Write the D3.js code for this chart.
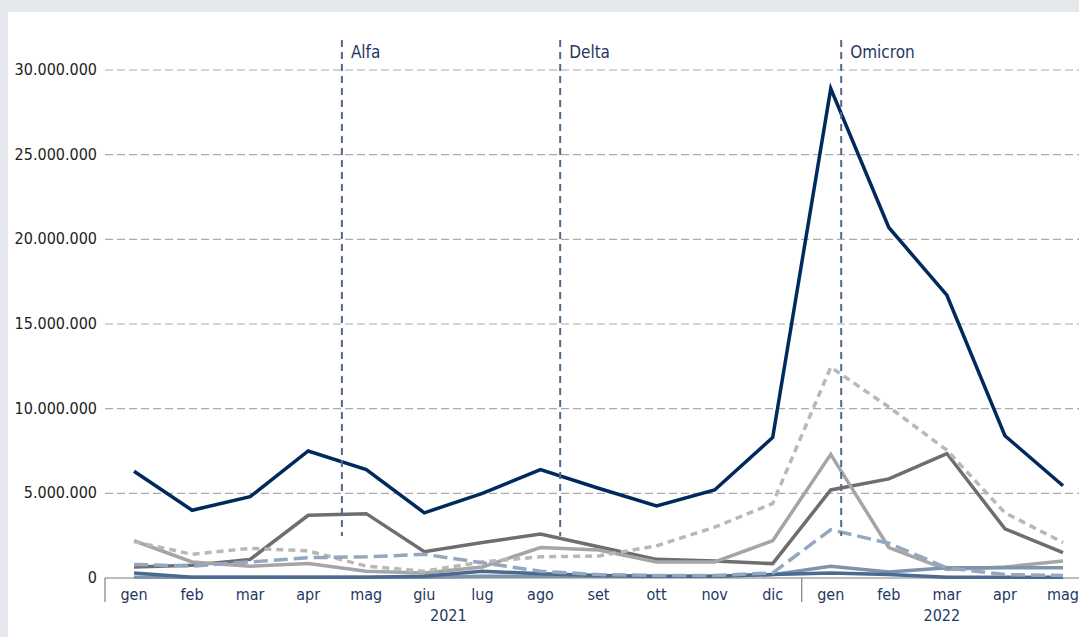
<!DOCTYPE html>
<html>
<head>
<meta charset="utf-8">
<script src="https://d3js.org/d3.v7.min.js"></script>
<style>
  body { margin: 0; background: #e5e8ed; }
  svg { display: block; }
</style>
</head>
<body>
<div id="chart"></div>
<script>

// months and years
var months = ["gen","feb","mar","apr","mag","giu","lug","ago","set","ott","nov","dic","gen","feb","mar","apr","mag"];
var years = [{label: "2021", from: 0, to: 11}, {label: "2022", from: 12, to: 16}];
var yTicks = [0, 5000000, 10000000, 15000000, 20000000, 25000000, 30000000];

// variant markers (position in month index)
var variants = [{name: "Alfa", pos: 3.58}, {name: "Delta", pos: 7.34}, {name: "Omicron", pos: 12.18}];

// series values (millions)
var navy      = [6.3, 4.0, 4.8, 7.5, 6.4, 3.85, 5.0, 6.4, 5.3, 4.25, 5.2, 8.3, 28.9, 20.7, 16.7, 8.4, 5.45];
var darkGray  = [0.65, 0.75, 1.1, 3.7, 3.8, 1.55, 2.1, 2.6, 1.85, 1.1, 1.0, 0.85, 5.2, 5.85, 7.35, 2.9, 1.5];
var lightGray = [2.2, 0.95, 0.7, 0.85, 0.4, 0.3, 0.65, 1.8, 1.65, 0.95, 0.95, 2.2, 7.3, 1.8, 0.5, 0.65, 1.0];
var grayDash  = [2.15, 1.4, 1.75, 1.6, 0.7, 0.4, 0.95, 1.25, 1.3, 1.9, 3.0, 4.4, 12.45, 10.1, 7.55, 3.85, 2.1];
var blueDash  = [0.8, 0.7, 0.95, 1.2, 1.25, 1.4, 0.9, 0.4, 0.2, 0.15, 0.15, 0.3, 2.85, 2.05, 0.6, 0.2, 0.15];
var blueGray  = [0.05, 0.05, 0.05, 0.05, 0.05, 0.05, 0.1, 0.1, 0.1, 0.1, 0.1, 0.2, 0.7, 0.35, 0.6, 0.6, 0.6];
var blueDark  = [0.3, 0.05, 0.05, 0.05, 0.05, 0.1, 0.4, 0.25, 0.15, 0.1, 0.1, 0.2, 0.3, 0.2, 0.05, 0.05, 0.05];

var series = [
  {values: darkGray,  color: "#6e6e6e", dash: null},
  {values: lightGray, color: "#a5a5a5", dash: null},
  {values: grayDash,  color: "#b8b8b8", dash: "7,5"},
  {values: blueGray,  color: "#7d93ae", dash: null},
  {values: blueDark,  color: "#4b6a90", dash: null},
  {values: blueDash,  color: "#93a7c0", dash: "14,6"},
  {values: navy,      color: "#002a5c", dash: null}
];

var W = 1079, H = 637;
var font = "'Liberation Sans Narrow', 'DejaVu Sans Condensed', sans-serif";

var svg = d3.select("#chart").append("svg")
  .attr("width", W).attr("height", H);

// white panel
svg.append("rect").attr("x", 8).attr("y", 12).attr("width", W - 8).attr("height", H - 12).attr("fill", "#fff");

var x0 = 105, step = 58.06;
var x = d3.scaleBand().domain(d3.range(months.length)).range([x0, x0 + step * months.length]);
var xc = function(i) { return x0 + step * (i + 0.5); };
var y = d3.scaleLinear().domain([0, 30000000]).range([578, 70]);

// grid lines
svg.append("g").selectAll("line").data(yTicks.filter(function(d) { return d > 0; }))
  .enter().append("line")
  .attr("x1", x0).attr("x2", W)
  .attr("y1", function(d) { return y(d); }).attr("y2", function(d) { return y(d); })
  .attr("stroke", "#aaaaaa").attr("stroke-width", 1.2).attr("stroke-dasharray", "8,4");

// y axis labels
var fmt = function(d) { return d3.format(",")(d).replace(/,/g, "."); };
svg.append("g").selectAll("text").data(yTicks)
  .enter().append("text")
  .attr("x", 97).attr("y", function(d) { return y(d) + 5; })
  .attr("text-anchor", "end")
  .attr("font-family", font).attr("font-size", "16px").attr("fill", "#222")
  .text(fmt);

// x axis
svg.append("line").attr("x1", x0).attr("x2", W).attr("y1", 578).attr("y2", 578)
  .attr("stroke", "#7f7f7f").attr("stroke-width", 1.2);
[0, 12].forEach(function(i) {
  svg.append("line").attr("x1", x(i)).attr("x2", x(i)).attr("y1", 578).attr("y2", 602)
    .attr("stroke", "#7f7f7f").attr("stroke-width", 1.2);
});
svg.append("g").selectAll("text").data(months)
  .enter().append("text")
  .attr("x", function(d, i) { return xc(i); }).attr("y", 600)
  .attr("text-anchor", "middle")
  .attr("font-family", font).attr("font-size", "16px").attr("fill", "#1f3864")
  .text(function(d) { return d; });
svg.append("g").selectAll("text").data(years)
  .enter().append("text")
  .attr("x", function(d) { return (xc(d.from) + xc(d.to)) / 2 - 5; }).attr("y", 621)
  .attr("text-anchor", "middle")
  .attr("font-family", font).attr("font-size", "16px").attr("fill", "#1f3864")
  .text(function(d) { return d.label; });

// series lines
var line = d3.line()
  .x(function(d, i) { return xc(i); })
  .y(function(d) { return y(d * 1000000); });

svg.append("g").selectAll("path").data(series)
  .enter().append("path")
  .attr("fill", "none")
  .attr("stroke", function(d) { return d.color; })
  .attr("stroke-width", 3.5)
  .attr("stroke-dasharray", function(d) { return d.dash; })
  .attr("d", function(d) { return line(d.values); });

// variant markers
var vg = svg.append("g").selectAll("g").data(variants).enter().append("g");
vg.append("line")
  .attr("x1", function(d) { return xc(d.pos); }).attr("x2", function(d) { return xc(d.pos); })
  .attr("y1", 40).attr("y2", 536)
  .attr("stroke", "#4f6a8c").attr("stroke-width", 2).attr("stroke-dasharray", "7,5");
vg.append("text")
  .attr("x", function(d) { return xc(d.pos) + 9; }).attr("y", 58)
  .attr("font-family", font).attr("font-size", "17px").attr("fill", "#1f3864")
  .text(function(d) { return d.name; });

</script>
</body>
</html>
